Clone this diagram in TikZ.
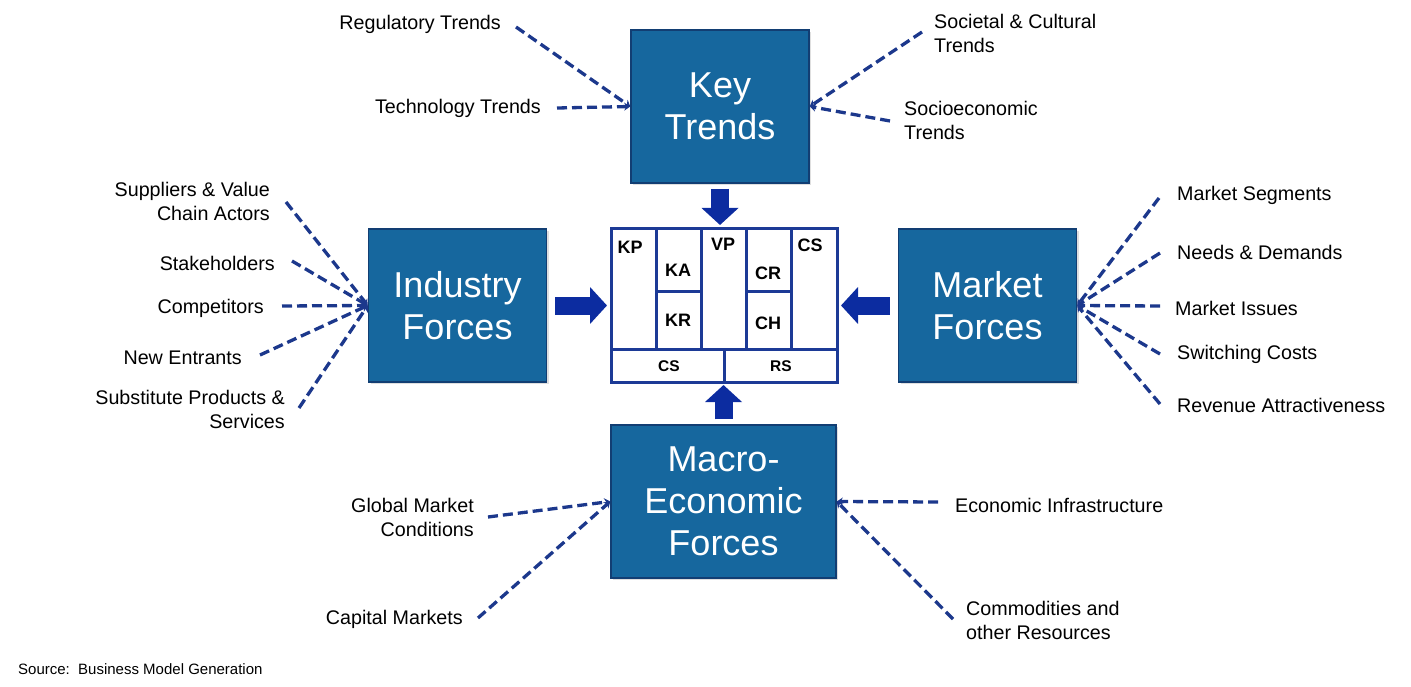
\documentclass[tikz,border=0pt]{standalone}
\usepackage{fontspec}
\setmainfont{Liberation Sans}
\usetikzlibrary{arrows.meta,shadows}
\definecolor{boxblue}{RGB}{22,103,158}
\definecolor{boxedge}{RGB}{18,62,115}
\definecolor{navy}{RGB}{28,56,140}
\definecolor{royal}{RGB}{12,44,160}
\definecolor{canvasline}{RGB}{28,58,150}

\tikzset{
  force/.style={draw=boxedge,line width=1.5pt,fill=boxblue,text=white,inner sep=0pt,
    minimum width=178pt,minimum height=153pt,align=center,
    font=\fontsize{36}{42}\selectfont,
    drop shadow={shadow xshift=2pt,shadow yshift=-2pt,opacity=.25}},
  trend/.style={draw=navy,line width=3.3pt,dash pattern=on 10pt off 5pt,
    -{Stealth[length=6pt,width=8pt]}},
  blockarr/.style={draw=royal,line width=18pt,-{Triangle[width=36pt,length=17pt]}},
  lbl/.style={inner sep=0pt,font=\fontsize{19.7}{24}\selectfont},
  cell/.style={draw=canvasline,line width=3pt,fill=white,inner sep=0pt,outer sep=0pt,
    anchor=north west},
  celltxt/.style={inner sep=0pt,font=\fontsize{18}{20}\selectfont\bfseries},
}

\begin{document}
\begin{tikzpicture}[x=1pt,y=-1pt]
  \useasboundingbox (0,0) rectangle (1411,687);

  % the four forces
  \node[force] (kt) at (720,106.5) {Key\\Trends};
  \node[force] (ind) at (457.5,305.5) {Industry\\Forces};
  \node[force] (mkt) at (987.5,305.5) {Market\\Forces};
  \node[force,minimum width=225pt] (mac) at (723.5,501.5) {Macro-\\Economic\\Forces};

  % business model canvas
  \node[cell,minimum width=226pt,minimum height=153pt] (bm) at (611,229) {};
  \foreach \n/\x/\y/\w/\h in {kp/611/229/45/120,ka/656/229/45/62,kr/656/291/45/58,
    vp/701/229/45/120,cr/746/229/45/62,ch/746/291/45/58,cs/791/229/46/120,
    cost/611/349/113/33,rev/724/349/113/33}
    \node[cell,minimum width=\w pt,minimum height=\h pt] (\n) at (\x,\y) {};
  \draw[canvasline,line width=3pt] (bm.north west) rectangle (bm.south east);
  \foreach \n/\t/\x/\y in {kpl/KP/630/247,kal/KA/678/270,krl/KR/678/320,vpl/VP/723/244,
    crl/CR/768/273,chl/CH/768/323,csl/CS/810/245}
    \node[celltxt] (\n) at (\x,\y) {\t};
  \node[celltxt,font=\fontsize{15.5}{18}\selectfont\bfseries] (costl) at (669,366) {CS};
  \node[celltxt,font=\fontsize{15.5}{18}\selectfont\bfseries] (revl) at (781,366) {RS};

  % block arrows into the canvas
  \coordinate (topin) at (kt.south |- bm.north);
  \coordinate (leftin) at (bm.west |- ind.east);
  \coordinate (rightin) at (bm.east |- mkt.west);
  \coordinate (botin) at (mac.north |- bm.south);
  \draw[blockarr] ([yshift=-5pt]kt.south) -- ([yshift=4pt]topin);
  \draw[blockarr] ([xshift=8pt]ind.east) -- ([xshift=-4pt]leftin);
  \draw[blockarr] ([xshift=-8pt]mkt.west) -- ([xshift=4pt]rightin);
  \draw[blockarr] ([yshift=5pt]mac.north) -- ([yshift=-3pt]botin);

  % drivers
  \foreach \n/\an/\al/\t/\x/\y/\sx/\sy/\tg in {
    reg/east/right/{Regulatory Trends}/501/24/516/27/kt.west,
    tech/east/right/{Technology Trends}/541/108/557/108/kt.west,
    soc/west/left/{Societal \& Cultural\\Trends}/934/33/922/32/kt.east,
    seco/west/left/{Socioeconomic\\Trends}/904/120/890/121/kt.east,
    sup/east/right/{Suppliers \& Value\\Chain Actors}/270/201/286/202/ind.west,
    stk/east/right/{Stakeholders}/275/263/292/261/ind.west,
    comp/east/right/{Competitors}/264/308/282/306/ind.west,
    newe/east/right/{New Entrants}/242/358/260/355/ind.west,
    subs/east/right/{Substitute Products \&\\Services}/285/409/299/408/ind.west,
    seg/west/left/{Market Segments}/1177/195/1159/198/mkt.east,
    need/west/left/{Needs \& Demands}/1177/252/1160/253/mkt.east,
    iss/west/left/{Market Issues}/1175/308/1160/306/mkt.east,
    swc/west/left/{Switching Costs}/1177/354/1160/354/mkt.east,
    rev/west/left/{Revenue Attractiveness}/1177/405/1160/404/mkt.east,
    glob/east/right/{Global Market\\Conditions}/474/517/488/517/mac.west,
    capm/east/right/{Capital Markets}/463/619/478/618/mac.west,
    infra/west/left/{Economic Infrastructure}/955/505/938/502/mac.east,
    comm/west/left/{Commodities and\\other Resources}/966/620/953/619/mac.east}{
    \node[lbl,anchor=\an,align=\al] (\n) at (\x,\y) {\t};
    \coordinate (\n-s) at (\sx,\sy);
    \draw[trend] (\n-s) -- (\tg);
  }

  \node[anchor=west,inner sep=0pt,font=\fontsize{15}{18}\selectfont] (src) at (18,669)
    {Source:\ \ Business Model Generation};
\end{tikzpicture}
\end{document}
